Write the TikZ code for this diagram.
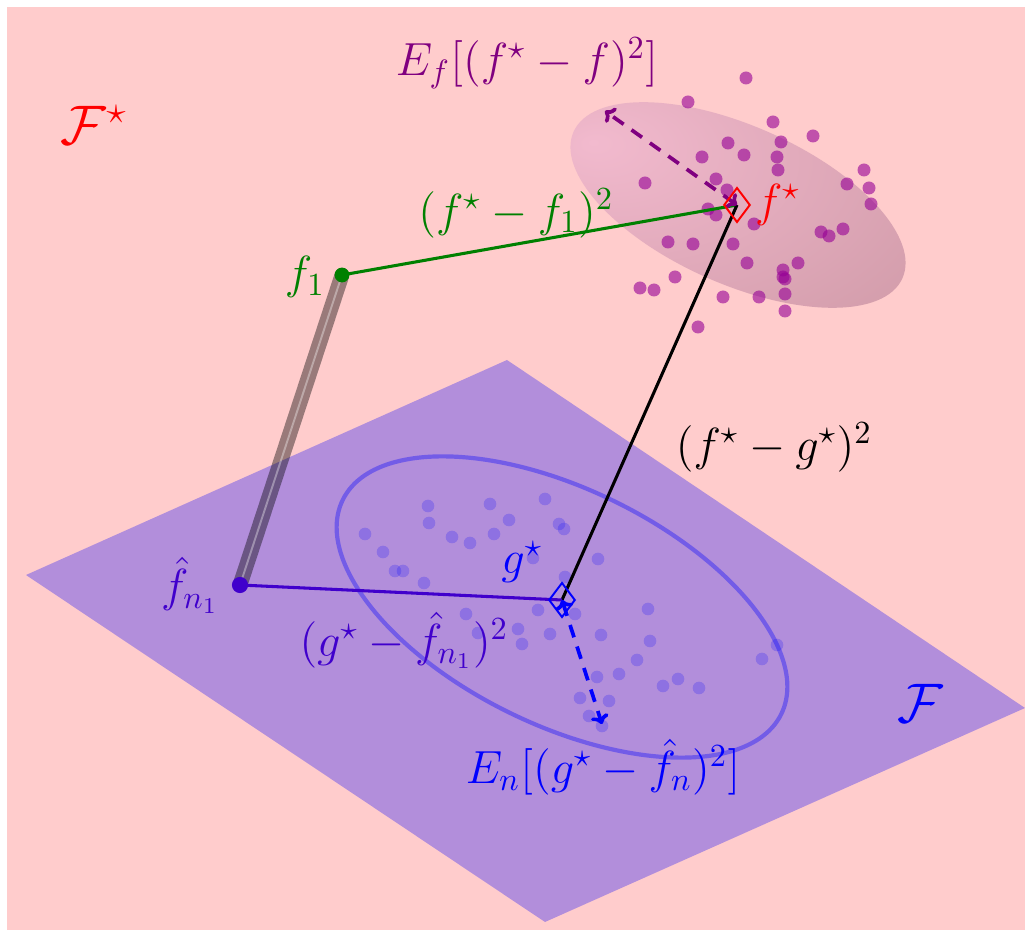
\documentclass[tikz,border=0pt]{standalone}
\usetikzlibrary{arrows.meta, positioning, shapes.geometric}
\definecolor{bgpink}{RGB}{255,204,204}
\definecolor{fgreen}{RGB}{0,128,0}
\definecolor{hatblue}{RGB}{64,0,204}
\definecolor{dotviolet}{RGB}{150,0,150}
\definecolor{spreadin}{RGB}{242,186,206}
\definecolor{spreadout}{RGB}{210,156,170}
\pgfdeclareradialshading{fstarshade}{\pgfpoint{-20bp}{14bp}}{%
  color(0bp)=(spreadin); color(44bp)=(spreadout); color(80bp)=(spreadout)}
\tikzset{
  lbl/.style={font=\Large, inner sep=1pt},
  setlbl/.style={font=\LARGE, inner sep=1pt},
  fdot/.style={fill=dotviolet, opacity=.6},
  gdot/.style={fill=blue, opacity=.2},
  optpt/.style={diamond, draw, line width=.6pt, inner sep=0pt,
    minimum width=8.2pt, minimum height=10.8pt},
  estpt/.style={circle, inner sep=0pt, minimum size=4.6pt},
  dist/.style={line width=.95pt},
  spread/.style={dashed, line width=1.15pt, dash pattern=on 4pt off 3pt,
    {To[length=2.8pt,width=5.6pt]}-{To[length=2.8pt,width=5.6pt]}}
}

\begin{document}
\begin{tikzpicture}[x=0.0109cm, y=-0.0109cm]
\useasboundingbox (0,0) rectangle (1032,935);
\fill[bgpink] (7,7) rectangle (1025,930);

% points
\coordinate (f1) at (342,275);
\coordinate (fs) at (737,205);
\coordinate (gs) at (562,600);
\coordinate (fhat) at (240,585);
\coordinate (fspread) at (605,111);
\coordinate (gspread) at (602,724);

% spread of f around f*
\shade[shading=fstarshade, rotate around={-24:(738,205)}]
  (738,205) ellipse [x radius=180, y radius=79];
\foreach \x/\y in {746/78, 688/102, 773/122, 813/136, 728/143, 781/142,
    702/157, 744/155, 777/157, 778/170, 864/170, 645/183, 716/179, 847/184,
    869/188, 727/190, 871/204, 708/209, 716/215, 754/224, 821/232, 829/236,
    843/229, 668/242, 693/244, 733/244, 747/263, 798/263, 783/270, 783/277,
    785/279, 675/277, 640/288, 654/290, 723/297, 759/297, 785/294, 785/311,
    698/327}
  \fill[fdot] (\x,\y) circle [radius=6.5];

% the model class F
\fill[blue, opacity=.3] (26,575) -- (507,360) -- (1025,708) -- (545,922) -- cycle;
\draw[blue, opacity=.35, line width=1.3pt, rotate around={-26:(562,607)}]
  (562,607) ellipse [x radius=244, y radius=118];
\foreach \x/\y in {428/506, 490/504, 545/499, 429/523, 509/520, 559/524,
    564/529, 365/534, 452/537, 470/543, 494/534, 383/552, 598/559, 395/571,
    403/571, 424/583, 533/558, 565/577, 466/614, 538/610, 575/614, 648/609,
    478/633, 518/629, 550/634, 601/635, 522/644, 650/641, 637/660, 762/659,
    777/645, 597/677, 619/674, 663/686, 678/679, 699/688, 580/698, 609/701,
    589/716, 602/726}
  \fill[gdot] (\x,\y) circle [radius=6.3];

% distances
\draw[black, opacity=.4, line width=4.6pt] (f1) -- (fhat);
\draw[white, opacity=.35, line width=.6pt] (f1) -- (fhat);
\draw[dist, fgreen] (f1) -- (fs);
\draw[dist, black] (fs) -- (gs);
\draw[dist, hatblue] (fhat) -- (gs);
\draw[spread, violet] (fs) -- (fspread);
\draw[spread, blue] (gs) -- (gspread);

\node[optpt, red] (fstar) at (fs) {};
\node[optpt, blue] (gstar) at (gs) {};
\node[estpt, fill=fgreen] (f1dot) at (f1) {};
\node[estpt, fill=hatblue, minimum size=5pt] (fhatdot) at (fhat) {};

% labels
\node[lbl, text=red, right=0pt of fstar] (lfstar) {$f^\star$};
\node[lbl, text=blue] (lgstar) at (522,562) {$g^\star$};
\node[lbl, text=fgreen] (lf1) at (305,277) {$f_1$};
\node[lbl, text=hatblue] (lfhat) at (190,585) {$\hat{f}_{n_1}$};
\node[lbl, text=fgreen] (lff1) at (516,213) {$(f^\star - f_1)^2$};
\node[lbl, text=black] (lfg) at (774,447) {$(f^\star - g^\star)^2$};
\node[lbl, text=hatblue] (lgf) at (404,640) {$(g^\star - \hat{f}_{n_1})^2$};
\node[lbl, text=violet] (lEf) at (527,63) {$E_f[(f^\star - f)^2]$};
\node[lbl, text=blue] (lEn) at (603,767) {$E_n[(g^\star - \hat{f}_n)^2]$};
\node[setlbl, text=red] (lFstar) at (94,125) {$\mathcal{F}^\star$};
\node[setlbl, text=blue] (lF) at (920,703) {$\mathcal{F}$};

\end{tikzpicture}
\end{document}
